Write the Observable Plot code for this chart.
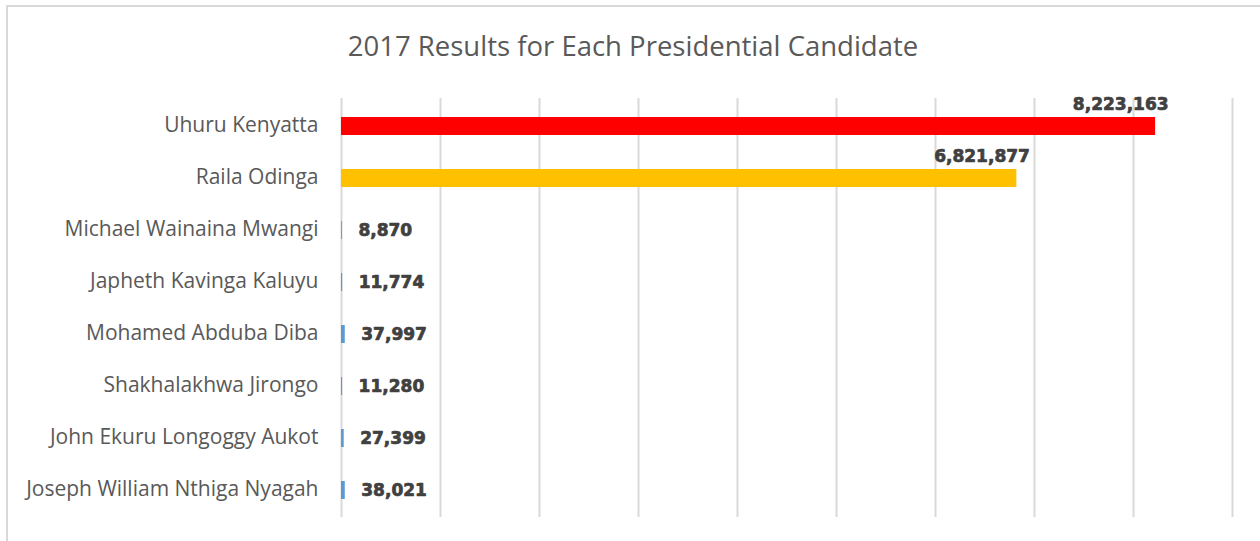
<!DOCTYPE html>
<html>
<head>
<meta charset="utf-8">
<script src="https://cdn.jsdelivr.net/npm/d3@7"></script>
<script src="https://cdn.jsdelivr.net/npm/@observablehq/plot@0.6"></script>
<style>
  html, body { margin: 0; padding: 0; background: #fff; overflow: hidden; }
  #frame { position: absolute; left: 6px; top: 5px; width: 1300px; height: 600px; border: 2px solid #d9d9d9; box-sizing: border-box; }
  #title { position: absolute; left: 0; width: 1266px; top: 28px; text-align: center; font-family: "Open Sans", sans-serif; font-size: 27.5px; color: #595959; line-height: 36px; }
  #chart { position: absolute; left: 0; top: 0; }
</style>
</head>
<body>
<div id="frame"></div>
<div id="title">2017 Results for Each Presidential Candidate</div>
<div id="chart"></div>
<script>
const candidates = [
  "Uhuru Kenyatta",
  "Raila Odinga",
  "Michael Wainaina Mwangi",
  "Japheth Kavinga Kaluyu",
  "Mohamed Abduba Diba",
  "Shakhalakhwa Jirongo",
  "John Ekuru Longoggy Aukot",
  "Joseph William Nthiga Nyagah"
];
const votes = [8223163, 6821877, 8870, 11774, 37997, 11280, 27399, 38021];
const colors = ["#ff0000", "#ffc000", "#5b9bd5", "#5b9bd5", "#5b9bd5", "#5b9bd5", "#5b9bd5", "#5b9bd5"];
const gridTicks = [0, 1e6, 2e6, 3e6, 4e6, 5e6, 6e6, 7e6, 8e6, 9e6];

const data = candidates.map((name, i) => ({name, votes: votes[i], color: colors[i]}));
const big = data.filter(d => d.votes > 1e6);
const small = data.filter(d => d.votes <= 1e6);
const fmt = d3.format(",");
const valueStyle = {fill: "#404040", stroke: "#404040", strokeWidth: 0.7, fontSize: 17, fontWeight: "bold", fontFamily: "'DejaVu Sans', sans-serif"};

const chart = Plot.plot({
  width: 1260,
  height: 541,
  marginLeft: 341,
  marginRight: 28,
  marginTop: 98,
  marginBottom: 24,
  x: {domain: [0, 9e6], axis: null},
  y: {domain: candidates, paddingInner: 0.656, paddingOuter: 0.328, axis: null},
  style: {background: "transparent", overflow: "visible"},
  marks: [
    Plot.ruleX(gridTicks, {x: d => d, stroke: "#d9d9d9", strokeWidth: 2}),
    Plot.barX(data, {y: "name", x: "votes", fill: "color"}),
    Plot.text(data, {y: "name", x: 0, text: "name", textAnchor: "end", dx: -23, dy: -1,
      fill: "#595959", fontSize: 21, fontFamily: "'Open Sans', sans-serif"}),
    Plot.text(big, {y: "name", x: "votes", text: d => fmt(d.votes), textAnchor: "end", dx: 13, dy: -22, ...valueStyle}),
    Plot.text(small, {y: "name", x: "votes", text: d => fmt(d.votes), textAnchor: "start", dx: 16, ...valueStyle})
  ]
});
document.getElementById("chart").appendChild(chart);
</script>
</body>
</html>
